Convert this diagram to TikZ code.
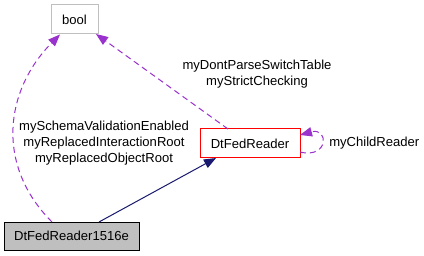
\documentclass[tikz,border=0pt]{standalone}
\usepackage{fontspec}
\setmainfont{Liberation Sans}
\usetikzlibrary{arrows.meta}
\definecolor{edgepurple}{HTML}{9A32CD}
\definecolor{edgenavy}{HTML}{191970}
\definecolor{boxgray}{HTML}{BFBFBF}
\definecolor{boxred}{HTML}{FF0000}
\begin{document}
\begin{tikzpicture}[x=0.75pt,y=-0.75pt,
  font=\fontsize{9.8}{12}\selectfont,
  cls/.style={draw, rectangle, inner sep=0pt, line width=0.75pt, text=black},
  tip/.style={-{Triangle[length=9pt,width=7pt]}},
  usage/.style={draw=edgepurple, tip, dash pattern=on 4.5pt off 3pt, line width=0.75pt},
  inherit/.style={draw=edgenavy, tip, line width=0.75pt},
  lbl/.style={align=center, inner sep=0pt, text=black}]
\useasboundingbox[fill=white] (0,0) rectangle (424,256);
\node[cls, draw=boxgray, minimum width=35.25pt, minimum height=21.75pt] (bool) at (74.5,19.5) {bool};
\node[cls, draw=boxred, minimum width=75pt, minimum height=21.75pt] (reader) at (250,143.5) {DtFedReader};
\node[cls, draw=black, fill=boxgray, minimum width=101.25pt, minimum height=21pt] (sub) at (71.5,236) {DtFedReader1516e};
\coordinate (subA) at (52,222);
\coordinate (subB) at (99,222);
\coordinate (boolA) at (60,34.5);
\coordinate (boolB) at (96,34);
\coordinate (readerT) at (228,129);
\coordinate (readerBot) at (216,158);
\coordinate (loopOut) at (300,152);
\coordinate (loopIn) at (300,135);
\draw[inherit] (subB) -- (readerBot);
\draw[usage] (subA) .. controls (-5,165) and (5,90) .. (boolA);
\draw[usage] (readerT) -- (boolB);
\draw[usage] (loopOut) .. controls (329,159) and (329,127) .. (loopIn);
\node[lbl] (l1) at (257,74) {myDontParseSwitchTable\\myStrictChecking};
\node[lbl] (l2) at (104,143) {mySchemaValidationEnabled\\myReplacedInteractionRoot\\myReplacedObjectRoot};
\node[lbl, anchor=west] (l3) at (329,143) {myChildReader};
\end{tikzpicture}
\end{document}
